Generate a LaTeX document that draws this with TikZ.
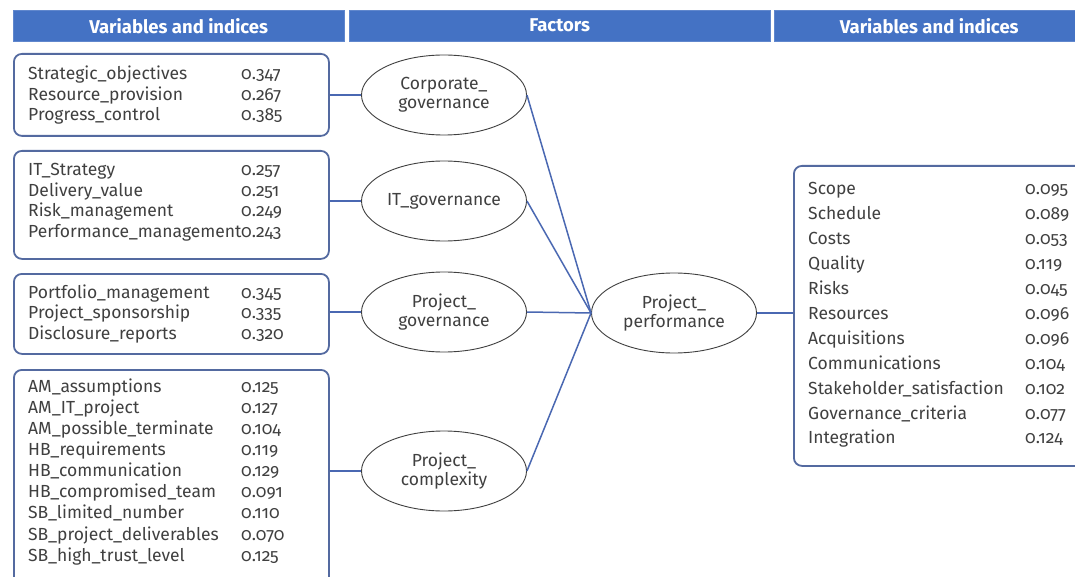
\documentclass[tikz,border=0pt]{standalone}
\usepackage{fontspec}
\setmainfont{Fira Sans}[Numbers=OldStyle]
\usepackage{xcolor}
\definecolor{headblue}{RGB}{68,114,196}
\definecolor{frameblue}{RGB}{84,106,160}
\definecolor{linkblue}{RGB}{74,104,178}
\definecolor{textgray}{RGB}{64,64,64}
\usetikzlibrary{shapes.geometric}

\tikzset{
  header/.style={fill=headblue, draw=headblue!85!white, text=white,
    font=\fontsize{18.5}{20}\selectfont\bfseries, minimum height=31pt,
    inner sep=0pt, anchor=north west},
  varbox/.style={draw=frameblue, line width=1.8pt, rounded corners=8pt,
    anchor=north west, inner sep=0pt},
  vartext/.style={text=textgray, anchor=west, inner sep=0pt},
  factor/.style={ellipse, draw=textgray, line width=0.9pt, text=textgray,
    minimum width=165pt, minimum height=80pt, inner sep=0pt, align=center,
    font=\fontsize{17.5}{19}\selectfont},
  link/.style={draw=linkblue, line width=1.5pt},
}
\newcommand{\lrow}[2]{\makebox[213pt][l]{#1}#2\\}
\newcommand{\rrow}[2]{\makebox[217pt][l]{#1}#2\\}

\begin{document}
\begin{tikzpicture}[x=1pt,y=-1pt]
\useasboundingbox (0,0) rectangle (1075,577);
\clip (0,0) rectangle (1075,577);
\fill[white] (0,0) rectangle (1075,577);

% column headers
\node[header, minimum width=331pt] (h1) at (13,10) {Variables and indices};
\node[header, minimum width=421pt] (h2) at (349,10) {Factors};
\node[header, minimum width=310pt] (h3) at (774,10) {Variables and indices};

% indicator boxes
\node[varbox, minimum width=315pt, minimum height=82pt] (b1) at (13,53) {};
\node[varbox, minimum width=315pt, minimum height=108pt] (b2) at (13,150) {};
\node[varbox, minimum width=315pt, minimum height=80pt] (b3) at (13,273) {};
\node[varbox, minimum width=315pt, minimum height=222pt] (b4) at (13,369) {};
\node[varbox, minimum width=310pt, minimum height=300pt] (rb) at (793,165) {};

\node[vartext, font=\fontsize{17.5}{20.5}\selectfont] (t1) at (28,96) {\begin{tabular}{@{}l@{}}
  \lrow{Strategic\_objectives}{0.347}
  \lrow{Resource\_provision}{0.267}
  \lrow{Progress\_control}{0.385}
\end{tabular}};
\node[vartext, font=\fontsize{17.5}{20.5}\selectfont] (t2) at (28,202.5) {\begin{tabular}{@{}l@{}}
  \lrow{IT\_Strategy}{0.257}
  \lrow{Delivery\_value}{0.251}
  \lrow{Risk\_management}{0.249}
  \lrow{Performance\_management}{0.243}
\end{tabular}};
\node[vartext, font=\fontsize{17.5}{20.5}\selectfont] (t3) at (28,314.5) {\begin{tabular}{@{}l@{}}
  \lrow{Portfolio\_management}{0.345}
  \lrow{Project\_sponsorship}{0.335}
  \lrow{Disclosure\_reports}{0.320}
\end{tabular}};
\node[vartext, font=\fontsize{17.5}{21.1}\selectfont] (t4) at (28,472.5) {\begin{tabular}{@{}l@{}}
  \lrow{AM\_assumptions}{0.125}
  \lrow{AM\_IT\_project}{0.127}
  \lrow{AM\_possible\_terminate}{0.104}
  \lrow{HB\_requirements}{0.119}
  \lrow{HB\_communication}{0.129}
  \lrow{HB\_compromised\_team}{0.091}
  \lrow{SB\_limited\_number}{0.110}
  \lrow{SB\_project\_deliverables}{0.070}
  \lrow{SB\_high\_trust\_level}{0.125}
\end{tabular}};
\node[vartext, font=\fontsize{17.5}{24.9}\selectfont] (tr) at (808,314.5) {\begin{tabular}{@{}l@{}}
  \rrow{Scope}{0.095}
  \rrow{Schedule}{0.089}
  \rrow{Costs}{0.053}
  \rrow{Quality}{0.119}
  \rrow{Risks}{0.045}
  \rrow{Resources}{0.096}
  \rrow{Acquisitions}{0.096}
  \rrow{Communications}{0.104}
  \rrow{Stakeholder\_satisfaction}{0.102}
  \rrow{Governance\_criteria}{0.077}
  \rrow{Integration}{0.124}
\end{tabular}};

% factors
\node[factor] (corp) at (444,95) {Corporate\_\\governance};
\node[factor] (itgov) at (444,201) {IT\_governance};
\node[factor] (pgov) at (444,312) {Project\_\\governance};
\node[factor] (pcomp) at (444,471) {Project\_\\complexity};
\node[factor] (perf) at (674,313) {Project\_\\performance};

% connectors
\foreach \b/\f in {b1/corp, b2/itgov, b3/pgov, b4/pcomp}
  \draw[link] (\f.west -| \b.east) -- (\f.west);
\foreach \f in {corp, itgov, pgov, pcomp}
  \draw[link] (\f.east) -- (perf.west);
\draw[link] (perf.east) -- (perf.east -| rb.west);
\end{tikzpicture}
\end{document}
